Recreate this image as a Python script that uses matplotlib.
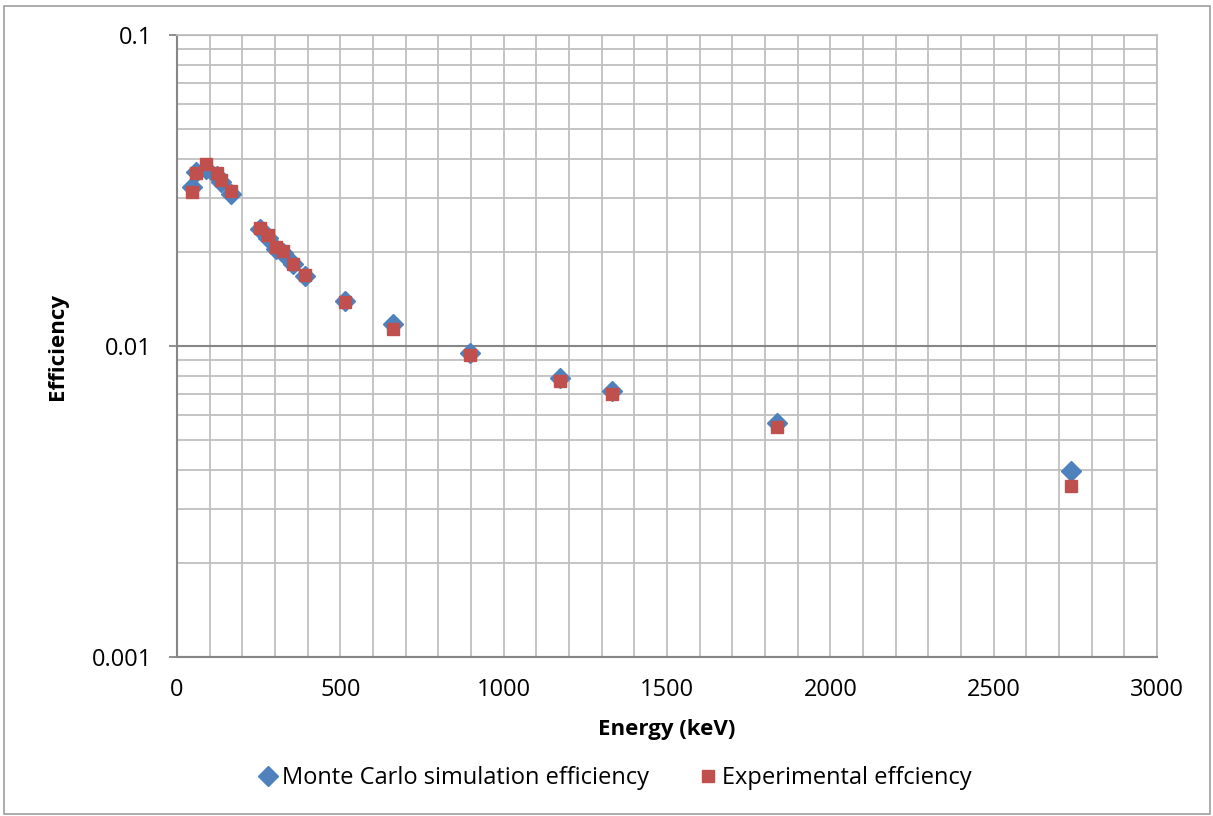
import matplotlib.pyplot as plt
from matplotlib.patches import Rectangle
from matplotlib.ticker import FixedLocator, NullFormatter

plt.rcParams['font.family'] = ['Open Sans', 'DejaVu Sans']

# gamma line energies (keV)
energy = [46.5, 59.5, 88, 122, 136, 166, 255, 279, 303, 323, 356, 392,
          514, 662, 898, 1173, 1332, 1836, 2737]
# simulated full-energy peak efficiency
mc_eff = [0.0325, 0.0362, 0.0372, 0.0352, 0.0336, 0.0308, 0.0238, 0.0222,
          0.0205, 0.0199, 0.0183, 0.0168, 0.0140, 0.01175, 0.00947, 0.00787,
          0.00717, 0.00564, 0.00396]
# measured efficiency
exp_eff = [0.0312, 0.0359, 0.0385, 0.0359, 0.0342, 0.0315, 0.0240, 0.0228,
           0.0208, 0.0202, 0.0184, 0.0169, 0.0139, 0.01135, 0.00936, 0.00774,
           0.0070, 0.0055, 0.00355]

fig = plt.figure(figsize=(12.13, 8.16), dpi=100)
ax = fig.add_axes([177 / 1213, 1 - 657 / 816, 980 / 1213, 622 / 816])

ax.plot(energy, mc_eff, linestyle='none', marker='D', markersize=10,
        color='#4F81BD', label='Monte Carlo simulation efficiency', zorder=3)
ax.plot(energy, exp_eff, linestyle='none', marker='s', markersize=9,
        color='#C0504D', label='Experimental effciency', zorder=4)

ax.set_yscale('log')
ax.set_ylim(0.001, 0.1)
ax.set_xlim(0, 3000)
ax.set_xticks(range(0, 3001, 500))
ax.xaxis.set_minor_locator(FixedLocator(range(0, 3001, 100)))
ax.set_yticks([0.001, 0.01, 0.1])
ax.set_yticklabels(['0.001', '0.01', '0.1'])
ax.yaxis.set_minor_formatter(NullFormatter())

ax.grid(which='minor', axis='both', color='#BFBFBF', linewidth=1.3)
ax.grid(which='major', axis='x', color='#BFBFBF', linewidth=1.3)
ax.grid(which='major', axis='y', color='#868686', linewidth=1.5)
ax.set_axisbelow(True)

ax.tick_params(axis='x', which='both', length=0, labelsize=17, pad=15)
ax.tick_params(axis='y', which='major', length=6, width=1.3,
               color='#868686', labelsize=17, pad=12)
ax.tick_params(axis='y', which='minor', length=0)

for side in ['top', 'right']:
    ax.spines[side].set_color('#BFBFBF')
    ax.spines[side].set_linewidth(1.3)
ax.spines['left'].set_color('#868686')
ax.spines['left'].set_linewidth(1.5)
ax.spines['bottom'].set_color('#868686')
ax.spines['bottom'].set_linewidth(1.5)

ax.set_xlabel('Energy (keV)', fontsize=16, fontweight='bold', labelpad=12)
ax.set_ylabel('Efficiency', fontsize=16, fontweight='bold', labelpad=17)

fig.legend(loc='center', bbox_to_anchor=(0.506, 1 - 778 / 816), ncol=2,
           frameon=False, fontsize=17, handletextpad=0.1, columnspacing=2.0,
           handlelength=1.0)

fig.patches.append(Rectangle((4 / 1213, 2 / 816), 1206 / 1213, 808 / 816,
                             transform=fig.transFigure, fill=False,
                             edgecolor='#A6A6A6', linewidth=1.3))

fig.savefig('out.png', dpi=100)
